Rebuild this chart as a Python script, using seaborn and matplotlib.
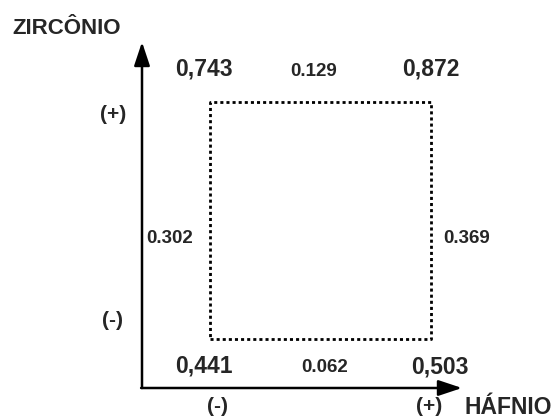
import matplotlib
matplotlib.use("Agg")
import matplotlib.pyplot as plt
import numpy as np
import pandas as pd
import seaborn as sns

# 2^2 design: corner responses and edge effects
x_name = "HÁFNIO"
y_name = "ZIRCÔNIO"
level_labels = ["(-)", "(+)"]
hf_levels = [-1, 1, 1, -1]
zr_levels = [-1, -1, 1, 1]
corner_values = ["0,441", "0,503", "0,872", "0,743"]
edge_names = ["bottom", "right", "top", "left"]
edge_values = ["0.062", "0.369", "0.129", "0.302"]

# pixel layout of the reference (556x418)
W, H = 556, 418
sq_left, sq_right, sq_top, sq_bottom = 210, 431, 102, 339
cx, hx = (sq_left + sq_right) / 2, (sq_right - sq_left) / 2
cy, hy = (sq_top + sq_bottom) / 2, (sq_bottom - sq_top) / 2


def px_x(p):
    return (p - cx) / hx


def px_y(p):
    return (cy - p) / hy


sns.set_theme(style="white")
plt.rcParams["font.family"] = ["Liberation Sans", "DejaVu Sans"]
plt.rcParams["font.weight"] = "bold"

fig = plt.figure(figsize=(W / 100, H / 100), dpi=100)
ax = fig.add_axes([0, 0, 1, 1])
ax.set_xlim(px_x(0), px_x(W))
ax.set_ylim(px_y(H), px_y(0))
ax.axis("off")

# dotted design square
square = pd.DataFrame({
    "hf": hf_levels + hf_levels[:1],
    "zr": zr_levels + zr_levels[:1],
})
sns.lineplot(data=square, x="hf", y="zr", sort=False, estimator=None,
             color="black", lw=2.0, linestyle=(0, (1.1, 1.1)), ax=ax)

# axes with arrows
ox, oy = px_x(142), px_y(388)
tip_y = (ox, px_y(42))
tip_x = (px_x(462), oy)
arrow = dict(arrowstyle="-|>,head_length=0.9,head_width=0.3", color="black",
             lw=1.8, mutation_scale=16, shrinkA=0, shrinkB=0)
ax.annotate("", xy=tip_y, xytext=(ox, oy), arrowprops=arrow)
ax.annotate("", xy=tip_x, xytext=(ox - 0.008, oy), arrowprops=arrow)

ax.annotate(y_name, xy=tip_y, xytext=(-75, 14), textcoords="offset pixels",
            ha="center", va="center", fontsize=16)
ax.annotate(x_name, xy=tip_x, xytext=(46, -19), textcoords="offset pixels",
            ha="center", va="center", fontsize=16.5)

# corner responses
corner_off = {(-1, -1): (-6, -27), (1, -1): (9, -28),
              (1, 1): (0, 33), (-1, 1): (-6, 33)}
for hf, zr, val in zip(hf_levels, zr_levels, corner_values):
    ax.annotate(val, xy=(hf, zr), xytext=corner_off[(hf, zr)],
                textcoords="offset pixels", ha="center", va="center",
                fontsize=16.5)

# edge effects
edge_pos = {"bottom": (0, -1), "right": (1, 0), "top": (0, 1), "left": (-1, 0)}
edge_off = {"bottom": (4, -28), "right": (36, -18),
            "top": (-7, 30), "left": (-40, -18)}
for name, val in zip(edge_names, edge_values):
    ax.annotate(val, xy=edge_pos[name], xytext=edge_off[name],
                textcoords="offset pixels", ha="center", va="center",
                fontsize=13.5)

# level labels on the axes
for lv, lab, dx in zip([-1, 1], level_labels, [8, -2]):
    ax.annotate(lab, xy=(lv, oy), xytext=(dx, -18), textcoords="offset pixels",
                ha="center", va="center", fontsize=15)
for lv, lab, dy in zip([-1, 1], level_labels, [19, -13]):
    ax.annotate(lab, xy=(ox, lv), xytext=(-29, dy), textcoords="offset pixels",
                ha="center", va="center", fontsize=15)

fig.savefig("out.png", dpi=100)
